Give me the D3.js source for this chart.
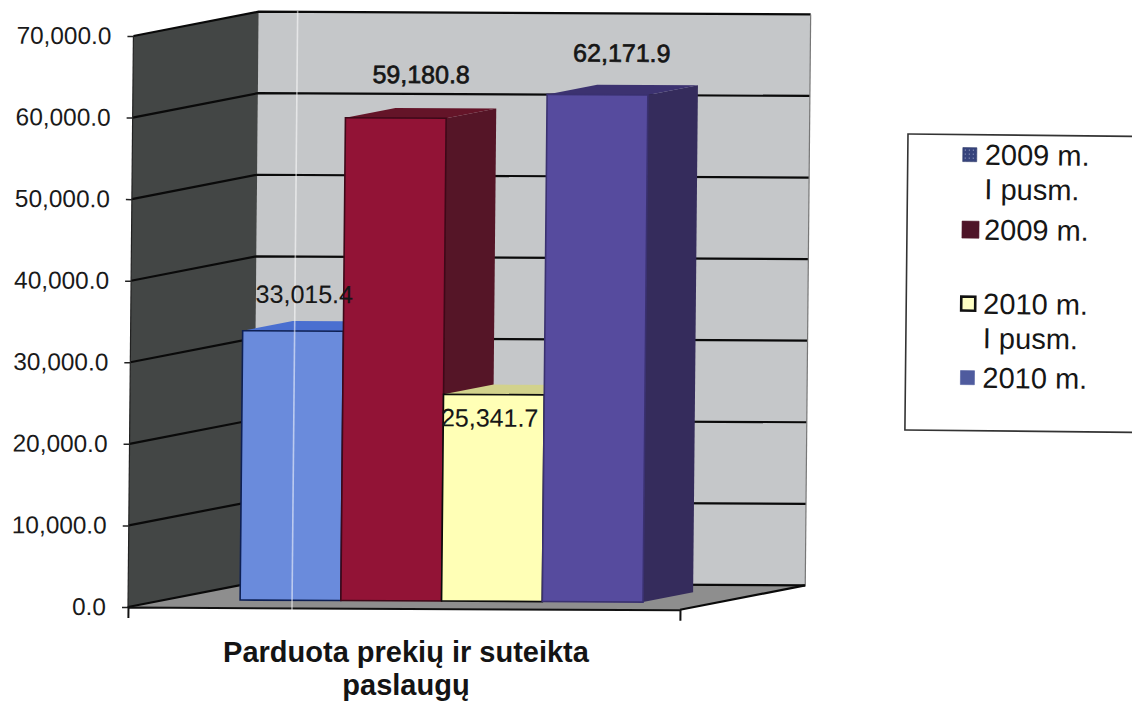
<!DOCTYPE html>
<html>
<head>
<meta charset="utf-8">
<script src="https://cdnjs.cloudflare.com/ajax/libs/d3/7.8.5/d3.min.js"></script>
<style>
  html, body { margin: 0; padding: 0; background: #fff; }
  svg { display: block; font-family: "Liberation Sans", Arial, sans-serif; }
</style>
</head>
<body>
<svg id="chart" width="1132" height="702"></svg>
<script>
// Chart content
const categoryLines = ["Parduota prekių ir suteikta", "paslaugų"];
const seriesKeys = ["2009h", "2009", "2010h", "2010"];
const seriesValues = [33015.4, 59180.8, 25341.7, 62171.9];
const legendLines = [["2009 m.", "I pusm."], ["2009 m."], ["2010 m.", "I pusm."], ["2010 m."]];
const valueTicks = [0, 10000, 20000, 30000, 40000, 50000, 60000, 70000];

// Bar palette: front, side and top faces
const frontColors = ["#6a8bdc", "#921336", "#ffffb6", "#564b9e"];
const sideColors = ["#3e5499", "#551527", "#b5b57c", "#352c5c"];
const topColors = ["#4a6fd0", "#641428", "#d2d28c", "#3c3270"];
const edgeColors = ["#0e2054", "#3e0818", "#0c0c0c", "#3a3170"];
const legendFills = ["url(#swatchDots)", "#4e1428", "#ffffc4", "#4f5b9e"];
const legendStrokes = ["#2d3868", "#4e1428", "#111111", "#4f5b9e"];

const svg = d3.select("#chart");
const originX = 128, originY = 607;

// Dotted fill used by the first legend key
const dots = svg.append("defs").append("pattern")
  .attr("id", "swatchDots").attr("patternUnits", "userSpaceOnUse")
  .attr("width", 4).attr("height", 4);
dots.append("rect").attr("width", 4).attr("height", 4).attr("fill", "#36437c");
dots.append("rect").attr("x", 1).attr("y", 1).attr("width", 1).attr("height", 1).attr("fill", "#a9b0cf");

// The whole plot sits very slightly askew on the page
const plot = svg.append("g")
  .attr("transform", `translate(${originX},${originY}) matrix(1,0.005,-0.0095,1,0,0) translate(${-originX},${-originY})`);

const y = d3.scaleLinear().domain([0, 70000]).range([607, 36]);
const x = d3.scaleBand().domain(seriesKeys).range([128, 680]).paddingInner(0).paddingOuter(0.74);
const depthX = d3.scaleLinear().domain([0, 1]).range([0, 125]);
const depthY = d3.scaleLinear().domain([0, 1]).range([0, -25]);

const pt = (px, py, d) => [px + depthX(d), py + depthY(d)];
const poly = pts => pts.map(p => p.join(",")).join(" ");

const xL = x.range()[0], xR = x.range()[1];
const yTop = y(70000), yBase = y(0);

// Back wall
plot.append("polygon")
  .attr("points", poly([pt(xL, yTop, 1), pt(xR, yTop, 1), pt(xR, yBase, 1), pt(xL, yBase, 1)]))
  .attr("fill", "#c5c7c9");
// Side wall
plot.append("polygon")
  .attr("points", poly([pt(xL, yTop, 0), pt(xL, yTop, 1), pt(xL, yBase, 1), pt(xL, yBase, 0)]))
  .attr("fill", "#434645");
// Floor
plot.append("polygon")
  .attr("points", poly([pt(xL, yBase, 0), pt(xL, yBase, 1), pt(xR, yBase, 1), pt(xR, yBase, 0)]))
  .attr("fill", "#8e8e8e");

// Gridlines run along the side wall and across the back wall
plot.append("g").selectAll("polyline").data(valueTicks).join("polyline")
  .attr("points", v => poly([pt(xL, y(v), 0), pt(xL, y(v), 1), pt(xR, y(v), 1)]))
  .attr("fill", "none").attr("stroke", "#0a0a0a").attr("stroke-width", 2.2);
plot.append("line")
  .attr("x1", pt(xR, yTop, 1)[0]).attr("y1", pt(xR, yTop, 1)[1])
  .attr("x2", pt(xR, yBase, 1)[0]).attr("y2", pt(xR, yBase, 1)[1])
  .attr("stroke", "#777").attr("stroke-width", 1.2);
plot.append("line")
  .attr("x1", pt(xL, yTop, 0)[0]).attr("y1", yTop)
  .attr("x2", pt(xL, yBase, 0)[0]).attr("y2", yBase)
  .attr("stroke", "#222").attr("stroke-width", 1.2);
plot.append("line")
  .attr("x1", pt(xR, yBase, 0)[0]).attr("y1", yBase)
  .attr("x2", pt(xR, yBase, 1)[0]).attr("y2", pt(xR, yBase, 1)[1])
  .attr("stroke", "#0a0a0a").attr("stroke-width", 2.2);

// Bars: each is a box with front at depth 0.3 and back at depth 0.7
const dFront = 0.3, dBack = 0.7;
const bars = plot.append("g").selectAll("g").data(seriesValues).join("g");
bars.each(function (v, i) {
  const g = d3.select(this);
  const x0 = x(seriesKeys[i]), x1 = x0 + x.bandwidth();
  const t = y(v), b = y(0);
  g.append("polygon")
    .attr("points", poly([pt(x1, t, dFront), pt(x1, t, dBack), pt(x1, b, dBack), pt(x1, b, dFront)]))
    .attr("fill", sideColors[i]);
  g.append("polygon")
    .attr("points", poly([pt(x0, t, dFront), pt(x0, t, dBack), pt(x1, t, dBack), pt(x1, t, dFront)]))
    .attr("fill", topColors[i]);
  const f0 = pt(x0, t, dFront), f1 = pt(x1, b, dFront);
  g.append("rect")
    .attr("x", f0[0]).attr("y", f0[1])
    .attr("width", f1[0] - f0[0]).attr("height", f1[1] - f0[1])
    .attr("fill", frontColors[i])
    .attr("stroke", edgeColors[i]).attr("stroke-width", 1.6);
});

// Axes
const yAxis = plot.append("g")
  .attr("transform", `translate(${xL},0)`)
  .call(d3.axisLeft(y).tickValues(valueTicks).tickFormat(d3.format(",.1f")).tickSize(6).tickSizeOuter(0).tickPadding(16));
yAxis.selectAll("text").attr("font-size", 24.4).attr("font-family", "Liberation Sans").attr("fill", "#1a1a1a");
yAxis.selectAll("line").attr("stroke", "#222").attr("stroke-width", 1.5);
yAxis.select(".domain").attr("stroke", "none");

const xAxis = plot.append("g")
  .attr("transform", `translate(0,${yBase})`)
  .call(d3.axisBottom(x).tickValues([]).tickSizeOuter(11));
xAxis.select(".domain").attr("stroke", "#111").attr("stroke-width", 2);

// Faint pale streak crossing the plot
plot.append("line")
  .attr("x1", 292).attr("y1", 10).attr("x2", 292).attr("y2", 612)
  .attr("stroke", "#fff").attr("stroke-opacity", 0.55).attr("stroke-width", 1.6);

// Value labels; shifts set where each label sits relative to its bar top
const labelShiftX = [11, 25, -4, 24];
const labelShiftY = [-28, -35, 32, -33];
const labelWeights = [0.1, 0.7, 0.1, 0.7];
plot.append("g").selectAll("text").data(seriesValues).join("text")
  .attr("x", (v, i) => pt(x(seriesKeys[i]) + x.bandwidth() / 2, y(v), dFront)[0] + labelShiftX[i])
  .attr("y", (v, i) => pt(0, y(v), dFront)[1] + labelShiftY[i])
  .attr("text-anchor", "middle").attr("font-size", 25)
  .attr("fill", "#161616").attr("stroke", "#161616")
  .attr("stroke-width", (v, i) => labelWeights[i])
  .text(d3.format(",.1f"));

// Category title under the axis
svg.append("text")
  .attr("text-anchor", "middle").attr("font-weight", "bold").attr("font-size", 29).attr("fill", "#141414")
  .selectAll("tspan").data(categoryLines).join("tspan")
  .attr("x", 406).attr("y", (d, i) => 662 + i * 32.5)
  .text(d => d);

// Legend
const legend = svg.append("g").attr("transform", "rotate(0.6,908,134)");
legend.append("rect")
  .attr("x", 908).attr("y", 134).attr("width", 260).attr("height", 296)
  .attr("fill", "#fff").attr("stroke", "#333").attr("stroke-width", 1.6);

const legendBaselines = [164, 239, 313, 387];
const swatchSizes = [14, 17, 14, 14];
legendLines.forEach((lines, i) => {
  const base = legendBaselines[i];
  const s = swatchSizes[i];
  legend.append("rect")
    .attr("x", 963).attr("y", base - 10 - s / 2).attr("width", s).attr("height", s)
    .attr("fill", legendFills[i]).attr("stroke", legendStrokes[i])
    .attr("stroke-width", i === 2 ? 2.6 : 0.6);
  lines.forEach((t, j) => {
    legend.append("text")
      .attr("x", 985).attr("y", base + j * 34.5)
      .attr("font-size", 29).attr("fill", "#161616")
      .text(t);
  });
});
</script>
</body>
</html>
